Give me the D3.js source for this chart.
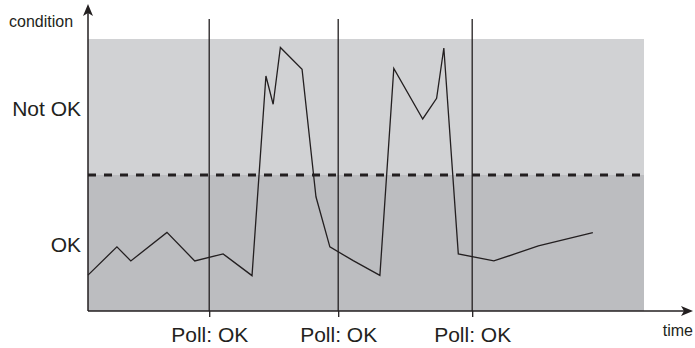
<!DOCTYPE html>
<html>
<head>
<meta charset="utf-8">
<script src="https://cdn.jsdelivr.net/npm/d3@7"></script>
<style>
  html, body { margin: 0; padding: 0; background: #fff; }
  svg { display: block; }
  text { font-family: "Liberation Sans", Arial, Helvetica, sans-serif; fill: #231f20; }
</style>
</head>
<body>
<svg id="chart" width="695" height="348"></svg>
<script>
// ---- data ----
const times     = [0, 5.2, 7.7, 14.2, 19.2, 24.3, 29.5, 32.0, 33.3, 34.6, 38.5, 41.0, 43.5, 47.7, 52.5, 55.0, 60.2, 62.7, 64.0, 66.6, 73.0, 81.0, 90.8];
const condition = [13.2, 23.6, 18.4, 28.9, 18.4, 21.0, 13.0, 86.4, 76.0, 96.9, 88.9, 42.0, 23.6, 18.5, 13.1, 89.2, 70.6, 78.2, 96.7, 21.0, 18.4, 23.9, 28.8];
const polls      = [21.8, 45.0, 69.1];
const pollLabels = ["Poll: OK", "Poll: OK", "Poll: OK"];
const threshold  = 50;
const yTickValues = [25, 75];
const yTickLabels = ["OK", "Not OK"];
const xTitle = "time";
const yTitle = "condition";

// ---- layout ----
const svg = d3.select("#chart");
const ink = "#231f20";
const x = d3.scaleLinear().domain([0, 100]).range([88, 644]);
const y = d3.scaleLinear().domain([0, 100]).range([311, 39]);

// background bands
svg.append("rect")
  .attr("x", x(0)).attr("y", y(100))
  .attr("width", x(100) - x(0)).attr("height", y(threshold) - y(100))
  .attr("fill", "#d1d2d4");
svg.append("rect")
  .attr("x", x(0)).attr("y", y(threshold))
  .attr("width", x(100) - x(0)).attr("height", y(0) - y(threshold))
  .attr("fill", "#bcbdc0");

// threshold dashed line
svg.append("line")
  .attr("x1", x(0)).attr("x2", x(100) - 3)
  .attr("y1", y(threshold)).attr("y2", y(threshold))
  .attr("stroke", ink).attr("stroke-width", 3)
  .attr("stroke-dasharray", "8,8");

// poll vertical lines
svg.selectAll("line.poll").data(polls).enter().append("line")
  .attr("class", "poll")
  .attr("x1", d => x(d)).attr("x2", d => x(d))
  .attr("y1", 19).attr("y2", y(0))
  .attr("stroke", ink).attr("stroke-width", 1.3);

// data line
const pts = times.map((t, i) => [t, condition[i]]);
svg.append("path")
  .datum(pts)
  .attr("d", d3.line().x(d => x(d[0])).y(d => y(d[1])))
  .attr("fill", "none").attr("stroke", ink).attr("stroke-width", 1.3)
  .attr("stroke-linejoin", "miter");

// x axis (poll ticks + labels)
const xAxis = d3.axisBottom(x)
  .tickValues(polls)
  .tickFormat((d, i) => pollLabels[i])
  .tickSize(6).tickPadding(10);
const gx = svg.append("g").attr("transform", `translate(0,${y(0)})`).call(xAxis);
gx.select(".domain").remove();
gx.selectAll(".tick line").attr("stroke", ink).attr("stroke-width", 1.3);
gx.selectAll(".tick text").style("font-size", "21px").attr("fill", ink);

// y axis labels
const yAxis = d3.axisLeft(y)
  .tickValues(yTickValues)
  .tickFormat((d, i) => yTickLabels[i])
  .tickSize(0).tickPadding(7);
const gy = svg.append("g").attr("transform", `translate(${x(0)},0)`).call(yAxis);
gy.select(".domain").remove();
gy.selectAll(".tick text").style("font-size", "21px").attr("dy", "0.4em").attr("fill", ink);

// axis lines with arrows
svg.append("line")
  .attr("x1", x(0)).attr("x2", x(0))
  .attr("y1", y(0)).attr("y2", 12)
  .attr("stroke", ink).attr("stroke-width", 1.5);
svg.append("path")
  .attr("d", `M${x(0)},4 L${x(0) + 5},16 L${x(0)},13 L${x(0) - 5},16 Z`)
  .attr("fill", ink);
svg.append("line")
  .attr("x1", x(0)).attr("x2", 685)
  .attr("y1", y(0)).attr("y2", y(0))
  .attr("stroke", ink).attr("stroke-width", 1.5);
svg.append("path")
  .attr("d", `M693,${y(0)} L681,${y(0) - 5} L684,${y(0)} L681,${y(0) + 5} Z`)
  .attr("fill", ink);

// axis titles
svg.append("text")
  .attr("x", 9).attr("y", 27)
  .style("font-size", "16px")
  .text(yTitle);
svg.append("text")
  .attr("x", 693).attr("y", 336)
  .attr("text-anchor", "end")
  .style("font-size", "16px")
  .text(xTitle);
</script>
</body>
</html>
